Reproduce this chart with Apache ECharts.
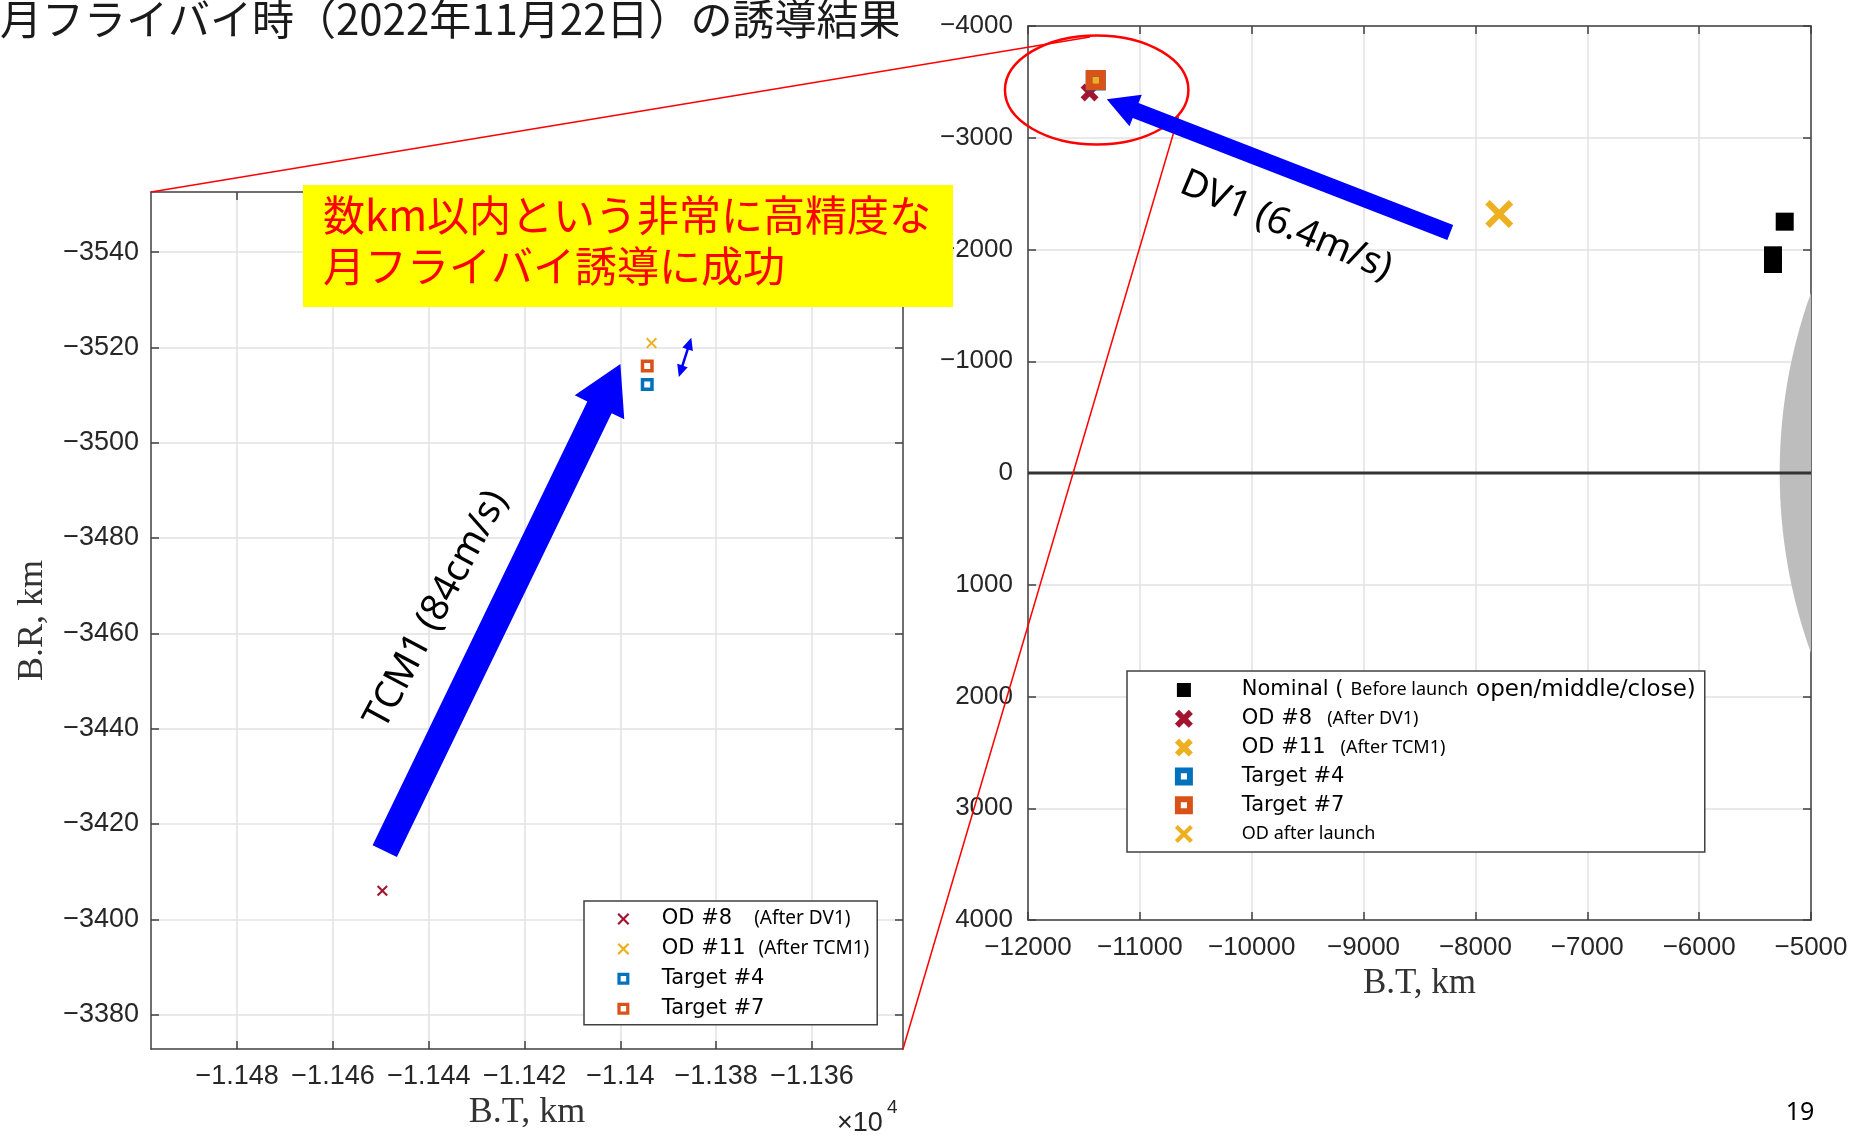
<!DOCTYPE html>
<html><head><meta charset="utf-8">
<script src="https://cdn.jsdelivr.net/npm/echarts@6/dist/echarts.min.js"></script>
<style>html,body{margin:0;padding:0;background:#fff}#c{width:1854px;height:1138px}</style>
</head><body><div id="c"></div>
<script>
// ---------------- texts ----------------
const titleText = '月フライバイ時（2022年11月22日）の誘導結果';
const calloutLines = ['数km以内という非常に高精度な', '月フライバイ誘導に成功'];
const dv1Label = 'DV1 (6.4m/s)';
const tcm1Label = 'TCM1 (84cm/s)';
const pageNumber = '19';
const axisNameBT = 'B.T, km';
const axisNameBR = 'B.R, km';

// ---------------- axes ----------------
const leftXTicks = [-11480, -11460, -11440, -11420, -11400, -11380, -11360];
const leftYTicks = [-3540, -3520, -3500, -3480, -3460, -3440, -3420, -3400, -3380];
const leftXRange = [-11498, -11341];
const leftYRange = [-3552.6, -3372.8];
const rightXRange = [-12000, -5000];
const rightYRange = [-4000, 4000];
const rightStep = 1000;

// ---------------- series data (B.T, B.R in km) ----------------
const od8 = [[-11449.7, -3406.0]];          // OD #8 (After DV1)
const od11 = [[-11393.5, -3520.9]];         // OD #11 (After TCM1)
const target4 = [[-11394.4, -3512.2]];      // Target #4
const target7 = [[-11394.4, -3516.1]];      // Target #7
const nominal = [[-5235, -2249], [-5340, -1948], [-5340, -1870]]; // open/middle/close
const odAfterLaunch = [[-7787, -2318]];
const moonDisk = [[-520, 0, 4760]];         // centre x, centre y, radius
const zeroLine = [[-12000, 0], [-5000, 0]];

// ---------------- annotation anchors (data coords) ----------------
const dv1Arrow = {from: [-8225, -2152], to: [-11296, -3344]};
const dv1TextAt = [-9694, -2212];
const tcm1Arrow = {from: [-11449.2, -3414.3], to: [-11400.0, -3516.5]};
const tcm1TextAt = [-11438.4, -3465.0];
const spreadArrow = {from: [-11385.2, -3522.0], to: [-11387.8, -3513.8]};
const zoomEllipse = {center: [-11386, -3428], radii: [820, 488]};
const connectorEnds = [[-11446, -3902], [-10656, -3188]];

// ---------------- legends ----------------
const leftLegendNames = ['OD #8', 'OD #11', 'Target #4', 'Target #7'];
const rightLegendNames = ['Nominal', 'OD #8', 'OD #11', 'Target #4', 'Target #7', 'OD after launch'];

const C = {od8: '#A2142F', od11: '#EDB120', t4: '#0072BD', t7: '#D95319', nominal: '#000000', moon: '#bdbdbd'};

function xPath(t) {
  return 'path://M' + t + ',0L5,' + (5 - t) + 'L' + (10 - t) + ',0L10,' + t + 'L' + (5 + t) + ',5L10,' + (10 - t) +
    'L' + (10 - t) + ',10L5,' + (5 + t) + 'L' + t + ',10L0,' + (10 - t) + 'L' + (5 - t) + ',5L0,' + t + 'Z';
}
function sqPath(h) {
  return 'path://M0,0H10V10H0Z M' + h + ',' + h + 'V' + (10 - h) + 'H' + (10 - h) + 'V' + h + 'Z';
}
const xThin = xPath(1.3), xBold = xPath(2.3), xBig = xPath(1.6);
const sqThin = sqPath(2.7), sqThick = sqPath(3.3);
const nominalIcon = 'path://M0,0L0.001,0Z M2,2H16V16H2Z M18,18L17.999,18Z';

const minus = v => String(v).replace('-', '\u2212');
const axisLineStyle = {color: '#404040', width: 1.5};
const gridLineStyle = {color: '#e2e2e2', width: 1.5};
const tickFont = '"Liberation Sans", Arial, sans-serif';
const serifFont = '"Liberation Serif", "Times New Roman", serif';
const legendMain = '"DejaVu Sans", sans-serif';
const legendSmall = '"Noto Sans", "Open Sans", sans-serif';

function mainAxis(gridIndex, pos, range, ticks, extra) {
  const a = {
    type: 'value', gridIndex: gridIndex, position: pos, min: range[0], max: range[1],
    axisLine: {show: true, onZero: false, lineStyle: axisLineStyle},
    axisTick: {show: true, inside: true, length: 8, lineStyle: axisLineStyle},
    axisLabel: {show: true, color: '#262626', fontFamily: tickFont},
    splitLine: {show: true, lineStyle: gridLineStyle}
  };
  if (ticks) { a.axisTick.customValues = ticks; a.axisLabel.customValues = ticks; }
  else { a.interval = rightStep; }
  return Object.assign(a, extra || {});
}
function boxAxis(gridIndex, pos, range, ticks, extra) {
  const a = {
    type: 'value', gridIndex: gridIndex, position: pos, min: range[0], max: range[1],
    axisLine: {show: true, onZero: false, lineStyle: axisLineStyle},
    axisTick: {show: true, inside: true, length: 8, lineStyle: axisLineStyle},
    axisLabel: {show: false}, splitLine: {show: false}
  };
  if (ticks) { a.axisTick.customValues = ticks; } else { a.interval = rightStep; }
  return Object.assign(a, extra || {});
}

const xAxes = [
  mainAxis(0, 'bottom', leftXRange, leftXTicks, {
    name: axisNameBT, nameLocation: 'middle', nameGap: 44,
    nameTextStyle: {fontFamily: serifFont, fontSize: 36, color: '#333'}
  }),
  mainAxis(1, 'bottom', rightXRange, null, {
    name: axisNameBT, nameLocation: 'middle', nameGap: 46,
    nameTextStyle: {fontFamily: serifFont, fontSize: 35, color: '#333'}
  }),
  boxAxis(0, 'top', leftXRange, leftXTicks),
  boxAxis(1, 'top', rightXRange, null)
];
xAxes[0].axisLabel.formatter = v => minus(parseFloat((v / 1e4).toFixed(4)));
xAxes[0].axisLabel.fontSize = 27; xAxes[0].axisLabel.margin = 14;
xAxes[1].axisLabel.formatter = v => minus(v);
xAxes[1].axisLabel.fontSize = 26; xAxes[1].axisLabel.margin = 15;

const yAxes = [
  mainAxis(0, 'left', leftYRange, leftYTicks, {
    inverse: true, name: axisNameBR, nameLocation: 'middle', nameGap: 100, nameRotate: 90,
    nameTextStyle: {fontFamily: serifFont, fontSize: 36, color: '#333'}
  }),
  mainAxis(1, 'left', rightYRange, null, {inverse: true}),
  boxAxis(0, 'right', leftYRange, leftYTicks, {inverse: true}),
  boxAxis(1, 'right', rightYRange, null, {inverse: true})
];
yAxes[0].axisLabel.formatter = v => minus(v);
yAxes[0].axisLabel.fontSize = 27; yAxes[0].axisLabel.margin = 12;
yAxes[1].axisLabel.formatter = v => minus(v);
yAxes[1].axisLabel.fontSize = 26; yAxes[1].axisLabel.margin = 15;

function sc(name, grid, data, symbol, size, color, z) {
  return {name: name, type: 'scatter', xAxisIndex: grid, yAxisIndex: grid, data: data,
    symbol: symbol, symbolSize: size, itemStyle: {color: color, opacity: 1}, silent: true, z: z || 3};
}

const series = [
  sc('OD #8', 0, od8, xThin, 11, C.od8),
  sc('OD #11', 0, od11, xThin, 11, C.od11),
  sc('Target #4', 0, target4, sqThin, 13, C.t4),
  sc('Target #7', 0, target7, sqThin, 13, C.t7),
  {
    type: 'custom', xAxisIndex: 1, yAxisIndex: 1, data: moonDisk, silent: true, z: 1,
    renderItem: function (params, api) {
      const c = api.coord([api.value(0), api.value(1)]);
      const s = api.size([api.value(2), api.value(2)]);
      const cs = params.coordSys;
      return {
        type: 'ellipse',
        shape: {cx: c[0], cy: c[1], rx: s[0], ry: s[1]},
        style: {fill: C.moon},
        clipPath: {type: 'rect', shape: {x: cs.x, y: cs.y, width: cs.width, height: cs.height}}
      };
    }
  },
  {type: 'line', xAxisIndex: 1, yAxisIndex: 1, data: zeroLine, symbol: 'none', silent: true, z: 2,
    lineStyle: {color: '#333333', width: 3}},
  sc('Nominal', 1, nominal, 'rect', 18, C.nominal),
  sc('OD #8', 1, od8, xBold, 18, C.od8),
  sc('OD #11', 1, od11, xBold, 16, C.od11),
  sc('Target #4', 1, target4, sqThick, 20, C.t4),
  sc('Target #7', 1, target7, sqThick, 20, C.t7),
  sc('OD after launch', 1, odAfterLaunch, xBig, 28, C.od11)
];

const leftNotes = {'OD #8': '{b1|(After DV1)}', 'OD #11': '{b2|(After TCM1)}'};
const rightNotes = {
  'Nominal': '{a|Nominal (}{s|Before launch}{c|open/middle/close)}',
  'OD #8': '{a|OD #8}{b|(After DV1)}',
  'OD #11': '{a|OD #11}{b|(After TCM1)}',
  'Target #4': '{a|Target #4}',
  'Target #7': '{a|Target #7}',
  'OD after launch': '{s2|OD after launch}'
};
const rightIcons = {'Nominal': nominalIcon, 'OD #8': xBold, 'OD #11': xBold, 'Target #4': sqThick, 'Target #7': sqThick, 'OD after launch': xBig};

const legends = [
  {
    orient: 'vertical', left: 584, top: 901, padding: [5, 8, 3, 33.4], itemGap: 3.9,
    itemWidth: 12, itemHeight: 12, selectedMode: false, backgroundColor: '#ffffff',
    borderColor: '#404040', borderWidth: 1.5, borderRadius: 0,
    data: leftLegendNames,
    formatter: name => '{p| }{a|' + name + '}' + (leftNotes[name] || ''),
    textStyle: {
      color: '#000', fontSize: 21, fontFamily: legendMain, lineHeight: 26,
      rich: {
        p: {width: 27.4, fontSize: 10, lineHeight: 26},
        a: {fontSize: 21, fontFamily: legendMain, lineHeight: 26, color: '#000'},
        b1: {fontSize: 19, fontFamily: legendSmall, lineHeight: 26, color: '#000', padding: [0, 0, 0, 22]},
        b2: {fontSize: 19, fontFamily: legendSmall, lineHeight: 26, color: '#000', padding: [0, 0, 0, 13]}
      }
    }
  },
  {
    orient: 'vertical', left: 1127, top: 671, padding: [6, 9, 5, 47.9], itemGap: 2.8,
    itemWidth: 18, itemHeight: 18, selectedMode: false, backgroundColor: '#ffffff',
    borderColor: '#404040', borderWidth: 1.5, borderRadius: 0,
    data: rightLegendNames.map(n => ({name: n, icon: rightIcons[n]})),
    formatter: name => '{p| }' + rightNotes[name],
    textStyle: {
      color: '#000', fontSize: 21, fontFamily: legendMain, lineHeight: 26,
      rich: {
        p: {width: 43.9, fontSize: 10, lineHeight: 26},
        a: {fontSize: 21, fontFamily: legendMain, lineHeight: 26, color: '#000'},
        c: {fontSize: 23, fontFamily: legendMain, lineHeight: 26, color: '#000'},
        b: {fontSize: 18, fontFamily: legendSmall, lineHeight: 26, color: '#000', padding: [0, 0, 0, 15]},
        s: {fontSize: 18, fontFamily: legendSmall, lineHeight: 26, color: '#000', padding: [0, 8, 0, 7]},
        s2: {fontSize: 18, fontFamily: legendSmall, lineHeight: 26, color: '#000'}
      }
    }
  }
];

const option = {
  animation: false,
  backgroundColor: '#ffffff',
  grid: [
    {left: 151, top: 192, width: 752, height: 857, outerBoundsMode: 'none'},
    {left: 1028, top: 26, width: 783, height: 894, outerBoundsMode: 'none'}
  ],
  xAxis: xAxes,
  yAxis: yAxes,
  legend: legends,
  series: series
};

const chart = echarts.init(document.getElementById('c'));
chart.setOption(option);

// ---------------- annotations ----------------
const px = (g, pt) => chart.convertToPixel({xAxisIndex: g, yAxisIndex: g}, pt);

function arrowPoly(a, b, shaftW, headW, headL) {
  const dx = b[0] - a[0], dy = b[1] - a[1], L = Math.hypot(dx, dy);
  const ux = dx / L, uy = dy / L, nx = -uy, ny = ux, s = shaftW / 2, h = headW / 2;
  const bx = b[0] - ux * headL, by = b[1] - uy * headL;
  return [[a[0] + nx * s, a[1] + ny * s], [bx + nx * s, by + ny * s], [bx + nx * h, by + ny * h], b,
    [bx - nx * h, by - ny * h], [bx - nx * s, by - ny * s], [a[0] - nx * s, a[1] - ny * s]];
}
function doubleArrowPoly(a, b, shaftW, headW, headL) {
  const dx = b[0] - a[0], dy = b[1] - a[1], L = Math.hypot(dx, dy);
  const ux = dx / L, uy = dy / L, nx = -uy, ny = ux, s = shaftW / 2, h = headW / 2;
  const a2 = [a[0] + ux * headL, a[1] + uy * headL], b2 = [b[0] - ux * headL, b[1] - uy * headL];
  return [a, [a2[0] + nx * h, a2[1] + ny * h], [a2[0] + nx * s, a2[1] + ny * s], [b2[0] + nx * s, b2[1] + ny * s],
    [b2[0] + nx * h, b2[1] + ny * h], b, [b2[0] - nx * h, b2[1] - ny * h], [b2[0] - nx * s, b2[1] - ny * s],
    [a2[0] - nx * s, a2[1] - ny * s], [a2[0] - nx * h, a2[1] - ny * h]];
}
function txt(x, y, text, font, fill, align, rot, z) {
  return {type: 'text', x: x, y: y, rotation: rot || 0, z: z || 100,
    style: {text: text, font: font, fill: fill, align: align, verticalAlign: 'middle',
      textAlign: align, textVerticalAlign: 'middle'}};
}

const g = [];
// title
g.push(txt(0, 19, titleText, '42px "Noto Sans CJK JP", sans-serif', '#1a1a1a', 'left'));
// connectors + ellipse
const tl = px(0, [leftXRange[0], leftYRange[0]]);
const br = px(0, [leftXRange[1], leftYRange[1]]);
const e1 = px(1, connectorEnds[0]), e2 = px(1, connectorEnds[1]);
g.push({type: 'line', z: 100, shape: {x1: tl[0], y1: tl[1], x2: e1[0], y2: e1[1]}, style: {stroke: '#ff0000', lineWidth: 1.5}});
g.push({type: 'line', z: 100, shape: {x1: br[0], y1: br[1], x2: e2[0], y2: e2[1]}, style: {stroke: '#ff0000', lineWidth: 1.5}});
const ec = px(1, zoomEllipse.center);
const erx = px(1, [zoomEllipse.center[0] + zoomEllipse.radii[0], zoomEllipse.center[1]]);
const ery = px(1, [zoomEllipse.center[0], zoomEllipse.center[1] + zoomEllipse.radii[1]]);
g.push({type: 'ellipse', z: 100, shape: {cx: ec[0], cy: ec[1], rx: Math.abs(erx[0] - ec[0]), ry: Math.abs(ery[1] - ec[1])},
  style: {fill: 'none', stroke: '#ff0000', lineWidth: 2.5}});
// arrows
g.push({type: 'polygon', z: 100, shape: {points: arrowPoly(px(1, dv1Arrow.from), px(1, dv1Arrow.to), 16, 34, 31)}, style: {fill: '#0000ff'}});
g.push({type: 'polygon', z: 100, shape: {points: arrowPoly(px(0, tcm1Arrow.from), px(0, tcm1Arrow.to), 27, 55, 48)}, style: {fill: '#0000ff'}});
g.push({type: 'polygon', z: 100, shape: {points: doubleArrowPoly(px(0, spreadArrow.from), px(0, spreadArrow.to), 2.5, 11, 12)}, style: {fill: '#0000ff'}});
// arrow labels
const dvt = px(1, dv1TextAt), tct = px(0, tcm1TextAt);
g.push(txt(dvt[0], dvt[1], dv1Label, '38px "Noto Sans", "Open Sans", sans-serif', '#000', 'center', -23 * Math.PI / 180));
g.push(txt(tct[0], tct[1], tcm1Label, '38px "Noto Sans", "Open Sans", sans-serif', '#000', 'center', 62 * Math.PI / 180));
// callout
g.push({type: 'rect', z: 110, shape: {x: 303, y: 185, width: 650, height: 122}, style: {fill: '#ffff00'}});
g.push(txt(323, 215, calloutLines[0], '42px "Noto Sans CJK JP", sans-serif', '#ff0000', 'left', 0, 111));
g.push(txt(323, 266, calloutLines[1], '42px "Noto Sans CJK JP", sans-serif', '#ff0000', 'left', 0, 111));
// x10^4 exponent label
g.push(txt(837, 1124, '\u00d710', '27px "Liberation Sans", Arial, sans-serif', '#262626', 'left'));
g.push(txt(887, 1108, '4', '19px "Liberation Sans", Arial, sans-serif', '#262626', 'left'));
// page number
g.push(txt(1800, 1113, pageNumber, '25px "Noto Sans", sans-serif', '#000', 'center'));

chart.setOption({graphic: {elements: g}});
</script>
</body></html>
